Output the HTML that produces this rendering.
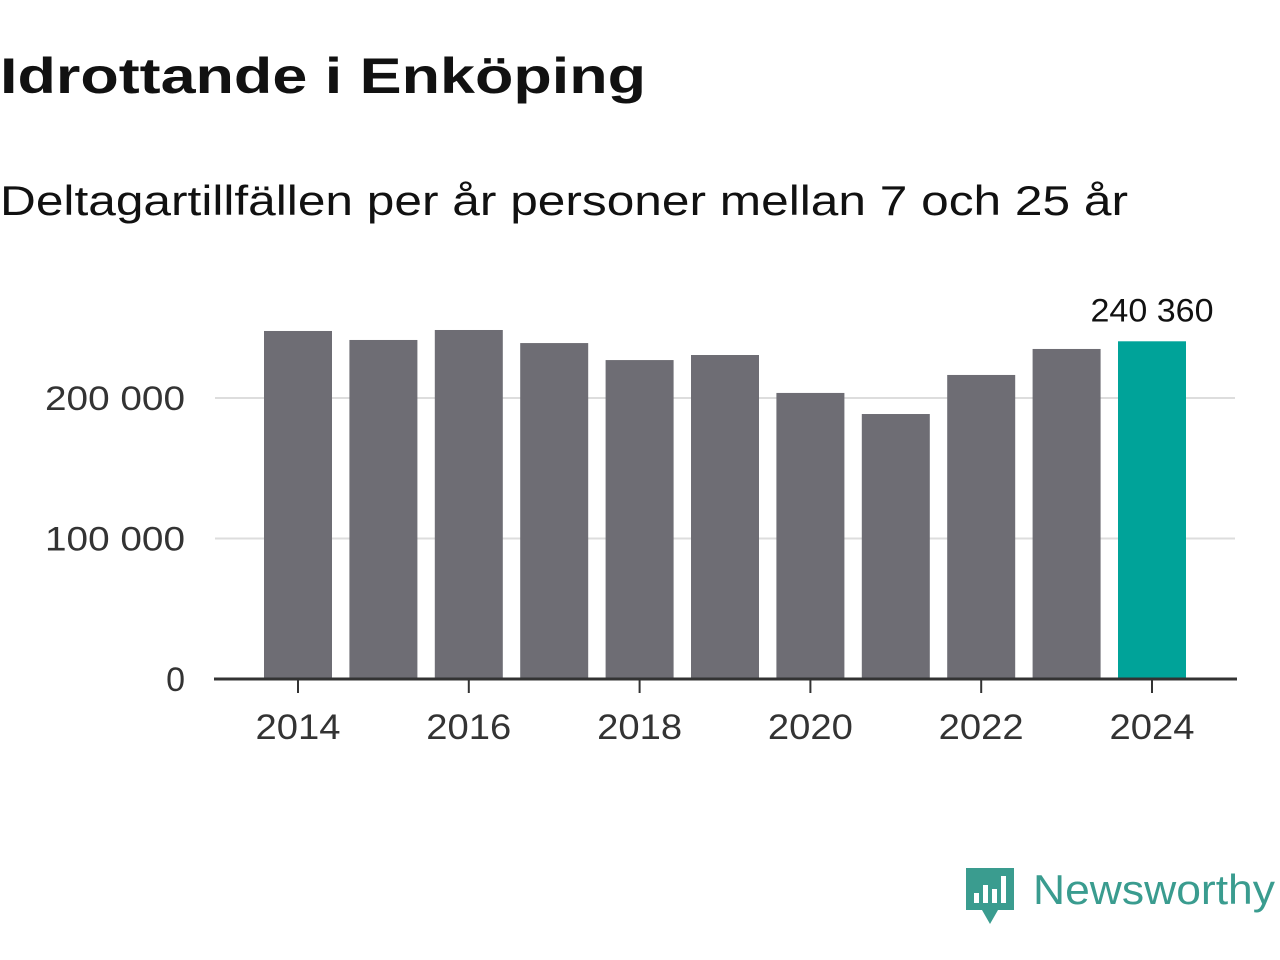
<!DOCTYPE html>
<html><head><meta charset="utf-8"><style>
body{margin:0;background:#fff;}
svg{display:block;font-family:"Liberation Sans",sans-serif;}
</style></head><body>
<svg id="chart" width="1280" height="960" viewBox="0 0 1280 960">
<text x="0" y="93" font-size="50" font-weight="bold" fill="#111" textLength="646" lengthAdjust="spacingAndGlyphs">Idrottande i Enköping</text>
<text x="0" y="215" font-size="42" fill="#111" textLength="1128" lengthAdjust="spacingAndGlyphs">Deltagartillfällen per år personer mellan 7 och 25 år</text>
<g id="grid"></g>
<g id="bars"></g>
<g id="axis"></g>
<g id="logo">
<path d="M966 868 H1014 V910 H998 L990 924 L982 910 H966 Z" fill="#3a9c8f"/>
<rect x="974" y="893" width="5" height="10" fill="#fff"/><rect x="983" y="885" width="5" height="18" fill="#fff"/><rect x="992" y="889" width="5" height="14" fill="#fff"/><rect x="1001" y="876" width="5" height="27" fill="#fff"/>
<text x="1033" y="904" font-size="42" fill="#3a9c8f" textLength="242" lengthAdjust="spacingAndGlyphs">Newsworthy</text>
</g>
</svg>
<script>
const years=[2014,2015,2016,2017,2018,2019,2020,2021,2022,2023,2024];
const values=[247700,241300,248400,239100,227000,230600,203600,188600,216400,234900,240360];
const yTicks=[0,100000,200000];
const yTickLabels=["0","100 000","200 000"];
const xTickYears=[2014,2016,2018,2020,2022,2024];
const lastLabel="240 360";
const NS="http://www.w3.org/2000/svg";
const y0=679, pxPer=281/200000;
const y=v=>y0-v*pxPer;
const x=yr=>298+(yr-2014)*85.4;
function mk(t,a,p){const e=document.createElementNS(NS,t);for(const k in a)e.setAttribute(k,a[k]);p.appendChild(e);return e;}
const grid=document.getElementById('grid'),bars=document.getElementById('bars'),axis=document.getElementById('axis');
yTicks.forEach((v,i)=>{
 if(v>0){const l=mk('line',{x1:215,x2:1235,y1:y(v),y2:y(v),stroke:'#ddd','stroke-width':2},grid);
 
 }
 const lab=yTickLabels[i];
 const attrs={x:185,y:y(v)+12,'font-size':34,fill:'#333','text-anchor':'end'};
 if(lab.length>1){attrs.textLength=lab.length*20;attrs.lengthAdjust='spacingAndGlyphs';}
 const t=mk('text',attrs,grid);
 
 
 t.textContent=lab;
});
years.forEach((yr,i)=>{
 const r=mk('rect',{x:x(yr)-34,width:68,y:y(values[i]),height:y0-y(values[i]),fill:i===years.length-1?'#00a399':'#6e6d74'},bars);
 
 
});
const lt=mk('text',{x:x(years[years.length-1]),y:y(values[values.length-1])-20,'font-size':32,fill:'#111','text-anchor':'middle',textLength:123,lengthAdjust:'spacingAndGlyphs'},bars);


lt.textContent=lastLabel;
const al=mk('line',{x1:214,x2:1237,y1:y0,y2:y0,stroke:'#333','stroke-width':3},axis);


xTickYears.forEach(yr=>{
 const tk=mk('line',{x1:x(yr),x2:x(yr),y1:y0,y2:y0+14,stroke:'#333','stroke-width':2},axis);
 
 
 const t=mk('text',{x:x(yr),y:739,'font-size':35,fill:'#333','text-anchor':'middle',textLength:85,lengthAdjust:'spacingAndGlyphs'},axis);
 
 
 t.textContent=yr;
});
</script>
</body></html>
